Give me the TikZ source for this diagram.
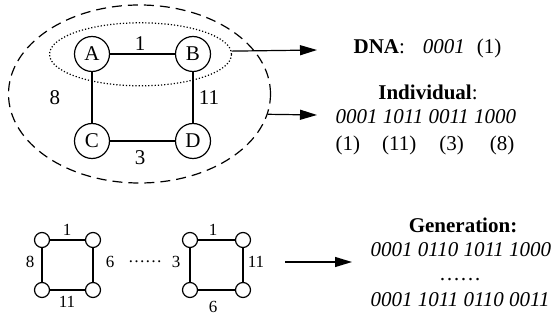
\documentclass[tikz,border=0pt]{standalone}
\usepackage{fontspec}
\setmainfont{Liberation Serif}
\usepackage{tikz}
\usetikzlibrary{arrows.meta, shapes.geometric}

\begin{document}
\begin{tikzpicture}[x=0.5pt, y=-0.5pt, line width=0.6pt,
		font=\fontsize{10.5}{12}\selectfont,
		vertex/.style={circle, draw=black, inner sep=0pt, minimum size=17.5pt},
		dot/.style={circle, draw=black, inner sep=0pt, minimum size=7.5pt},
		lbl/.style={inner sep=1pt},
		small/.style={inner sep=1pt, font=\fontsize{8.5}{10}\selectfont},
		txt/.style={inner sep=1pt, anchor=west},
		arrow/.style={-{Triangle[length=8.5pt, width=5pt]}}]
				\useasboundingbox (0,0) rectangle (557,320);
				
				%%% CROMOSOMA
				\node[ellipse, draw=black, dashed, dash pattern=on 5pt off 3pt, minimum width=131pt, minimum height=89pt] (outer) at (139.5,94) {};
				\node[ellipse, draw=black, dash pattern=on 0.6pt off 1pt, minimum width=91pt, minimum height=31.5pt] (inner) at (140.5,54.3) {};
				
				%%% VERTICES
				\node[vertex] (A) at (92,54) {A};
				\node[vertex] (B) at (193,54) {B};
				\node[vertex] (C) at (92,141) {C};
				\node[vertex] (D) at (193,141) {D};
				
				%%% ARISTAS
				\draw (A) -- (B);
				\draw (A) -- (C);
				\draw (B) -- (D);
				\draw (C) -- (D);
				\node[lbl] (wab) at (140,44) {1};
				\node[lbl] (wac) at (55,98) {8};
				\node[lbl] (wbd) at (209,98) {11};
				\node[lbl] (wcd) at (140,158) {3};
				
				%%% CODIGOS
				\node[txt] (dna) at (351,48) {\textbf{DNA}:\hspace{9pt}\textit{0001}\hspace{6pt}(1)};
				\node[lbl] (ind) at (428,92) {\textbf{Individual}:};
				\node[txt] (indcode) at (333,117) {\textit{0001 1011 0011 1000}};
				\node[txt] (indw) at (333,145) {(1)\hspace{11pt}(11)\hspace{11.5pt}(3)\hspace{13pt}(8)};
				\coordinate (dnatip) at (317,50);
				\coordinate (indtip) at (317,115);
				\draw[arrow] (inner.2.7) -- (dnatip);
				\draw[arrow] (outer.-9.4) -- (indtip);
				
				%%% POBLACION
				\node[dot] (p1a) at (42,240) {};
				\node[dot] (p1b) at (93,240) {};
				\node[dot] (p1c) at (42,290) {};
				\node[dot] (p1d) at (93,290) {};
				\draw (p1a) -- (p1b);
				\draw (p1a) -- (p1c);
				\draw (p1b) -- (p1d);
				\draw (p1c) -- (p1d);
				\node[small] (w1ab) at (67,230) {1};
				\node[small] (w1ac) at (30,262) {8};
				\node[small] (w1bd) at (110,262) {6};
				\node[small] (w1cd) at (67,302) {11};
				
				\node[small] (etc) at (145,262) {……};
				
				\node[dot] (p2a) at (190,240) {};
				\node[dot] (p2b) at (243,240) {};
				\node[dot] (p2c) at (190,290) {};
				\node[dot] (p2d) at (243,290) {};
				\draw (p2a) -- (p2b);
				\draw (p2a) -- (p2c);
				\draw (p2b) -- (p2d);
				\draw (p2c) -- (p2d);
				\node[small] (w2ab) at (213,230) {1};
				\node[small] (w2ac) at (176,262) {3};
				\node[small] (w2bd) at (256,262) {11};
				\node[small] (w2cd) at (213,307) {6};
				
				%%% GENERACION
				\coordinate (genstart) at (285,262);
				\coordinate (gentip) at (352,262);
				\draw[arrow] (genstart) -- (gentip);
				\node[lbl] (gen) at (463,225) {\textbf{Generation:}};
				\node[txt] (gen1) at (368,250) {\textit{0001 0110 1011 1000}};
				\node[lbl] (gendots) at (460,280) {……};
				\node[txt] (gen2) at (368,300) {\textit{0001 1011 0110 0011}};
			\end{tikzpicture}
\end{document}
